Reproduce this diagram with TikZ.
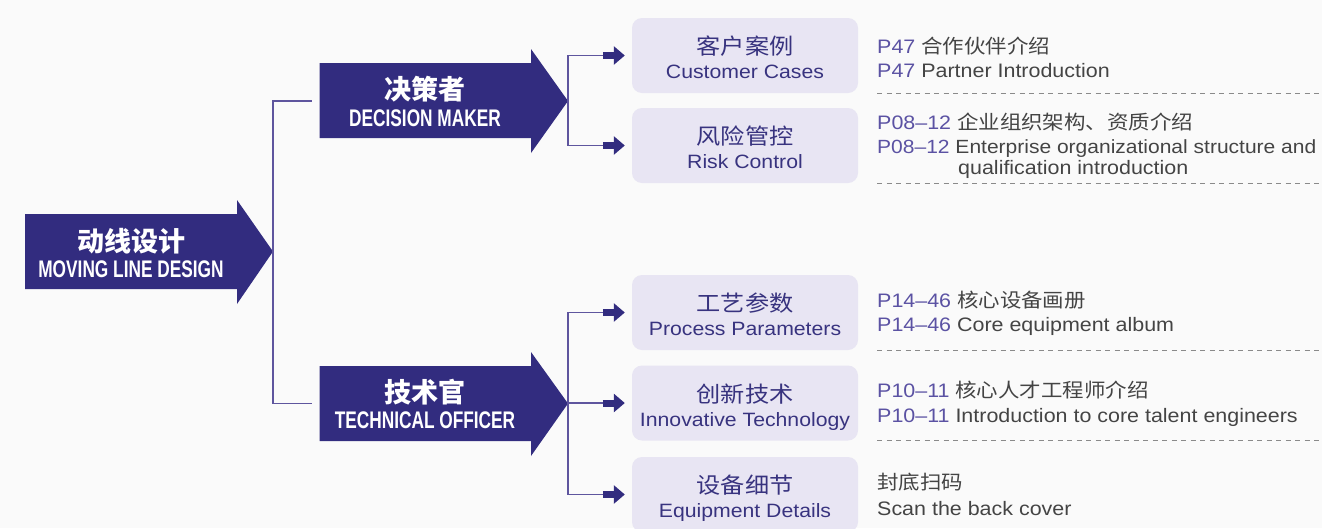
\documentclass[tikz,border=0pt]{standalone}
\usepackage{fontspec}
\usetikzlibrary{arrows.meta,calc}
\newfontfamily\latw{Liberation Sans}[FakeStretch=1.1]
\newfontfamily\cjkw{Noto Sans CJK SC}[FakeStretch=1.1]
\newfontfamily\latc{Liberation Sans}[FakeStretch=0.72]
\newfontfamily\cjkb{Noto Sans CJK SC}
\definecolor{bgc}{HTML}{FAFAFA}
\definecolor{arrc}{HTML}{322C7F}
\definecolor{connc}{HTML}{5E559E}
\definecolor{boxc}{HTML}{E8E5F3}
\definecolor{boxt}{HTML}{38337F}
\definecolor{pcode}{HTML}{5B52A3}
\definecolor{grayt}{HTML}{444444}
\definecolor{dashc}{HTML}{8A8A8A}
\begin{document}
\begin{tikzpicture}[x=1pt,y=-1pt,
  bigarr/.style={fill=arrc},
  armzh/.style={anchor=base,inner sep=0,text=white,font=\cjkb\bfseries\fontsize{27}{27}\selectfont},
  armen/.style={anchor=base,inner sep=0,text=white,font=\latc\bfseries\fontsize{24}{24}\selectfont},
  conn/.style={draw=connc,line width=1.3pt},
  sarr/.style={draw=arrc,line width=7pt,-{Triangle[length=11pt,width=18pt]}},
  box/.style={rounded corners=10pt,fill=boxc,minimum width=226pt,minimum height=75pt,inner sep=0},
  boxzh/.style={anchor=base,inner sep=0,text=boxt,font=\cjkw\fontsize{22}{22}\selectfont},
  boxen/.style={anchor=base,inner sep=0,text=boxt,font=\latw\fontsize{19.3}{19.3}\selectfont},
  rt/.style={anchor=base west,inner sep=0,text=grayt,font=\latw\fontsize{19.5}{19.5}\selectfont},
  dashl/.style={draw=dashc,line width=1pt,dash pattern=on 5pt off 4.5pt}]
\fill[bgc] (0,0) rectangle (1322,528);
\useasboundingbox (0,0) rectangle (1322,528);

% big arrows
\fill[bigarr] (25,214) -- (237,214) -- (237,200) -- (273,251.5) -- (237,304) -- (237,289) -- (25,289) -- cycle;
\coordinate (mainTip) at (273,251.5);
\fill[bigarr] (319.5,63) -- (531,63) -- (531,49) -- (568,101) -- (531,153) -- (531,138) -- (319.5,138) -- cycle;
\coordinate (dmTip) at (568,101);
\coordinate (dmW) at (319.5,101);
\fill[bigarr] (319.5,366) -- (531,366) -- (531,352) -- (568,403.5) -- (531,456) -- (531,441) -- (319.5,441) -- cycle;
\coordinate (toTip) at (568,403.5);
\coordinate (toW) at (319.5,403.5);

\node[armzh] (mainZh) at (131,251) {动线设计};
\node[armen] (mainEn) at (131,277) {MOVING LINE DESIGN};
\node[armzh] (dmZh) at (425,99) {决策者};
\node[armen] (dmEn) at (425,126) {DECISION MAKER};
\node[armzh] (toZh) at (425,402) {技术官};
\node[armen] (toEn) at (425,428) {TECHNICAL OFFICER};

% connectors from main arrow
\draw[conn] (mainTip) |- ($(dmW)+(-8,0)$);
\draw[conn] (mainTip) |- ($(toW)+(-8,0)$);

% boxes
\node[box] (cc) at (745,55.5) {};
\node[box] (rc) at (745,145.5) {};
\node[box] (pp) at (745,312.5) {};
\node[box] (it) at (745,403) {};
\node[box] (ed) at (745,494.5) {};

\node[boxzh] (ccZh) at ($(cc.north)+(0,37)$) {客户案例};
\node[boxen] (ccEn) at ($(cc.north)+(0,61)$) {Customer Cases};
\node[boxzh] (rcZh) at ($(rc.north)+(0,37)$) {风险管控};
\node[boxen] (rcEn) at ($(rc.north)+(0,61)$) {Risk Control};
\node[boxzh] (ppZh) at ($(pp.north)+(0,37)$) {工艺参数};
\node[boxen] (ppEn) at ($(pp.north)+(0,61)$) {Process Parameters};
\node[boxzh] (itZh) at ($(it.north)+(0,37)$) {创新技术};
\node[boxen] (itEn) at ($(it.north)+(0,61)$) {Innovative Technology};
\node[boxzh] (edZh) at ($(ed.north)+(0,37)$) {设备细节};
\node[boxen] (edEn) at ($(ed.north)+(0,61)$) {Equipment Details};

% connectors to boxes
\foreach \b/\t in {cc/dmTip,rc/dmTip,pp/toTip,it/toTip,ed/toTip}{
  \draw[conn] (\t) |- ($(\b.west)+(-29,0)$);
  \draw[sarr] ($(\b.west)+(-29,0)$) -- ($(\b.west)+(-7,0)$);
}

% right column texts
\node[rt] (r1a) at (877,53) {\textcolor{pcode}{P47} {\cjkw 合作伙伴介绍}};
\node[rt] (r1b) at (877,77) {\textcolor{pcode}{P47} Partner Introduction};
\node[rt] (r2a) at (877,129) {\textcolor{pcode}{P08–12} {\cjkw 企业组织架构、资质介绍}};
\node[rt,font=\latw\fontsize{19.1}{19.1}\selectfont] (r2b) at (877,153) {\textcolor{pcode}{P08–12} Enterprise organizational structure and};
\node[rt] (r2c) at (958,174) {qualification introduction};
\node[rt] (r3a) at (877,307) {\textcolor{pcode}{P14–46} {\cjkw 核心设备画册}};
\node[rt] (r3b) at (877,331) {\textcolor{pcode}{P14–46} Core equipment album};
\node[rt] (r4a) at (877,397) {\textcolor{pcode}{P10–11} {\cjkw 核心人才工程师介绍}};
\node[rt] (r4b) at (877,422) {\textcolor{pcode}{P10–11} Introduction to core talent engineers};
\node[rt] (r5a) at (877,489) {{\cjkw 封底扫码}};
\node[rt] (r5b) at (877,515) {Scan the back cover};

% dashed separators
\draw[dashl] (877,93) -- (1322,93);
\draw[dashl] (877,183) -- (1322,183);
\draw[dashl] (877,350) -- (1322,350);
\draw[dashl] (877,440) -- (1322,440);
\end{tikzpicture}
\end{document}
